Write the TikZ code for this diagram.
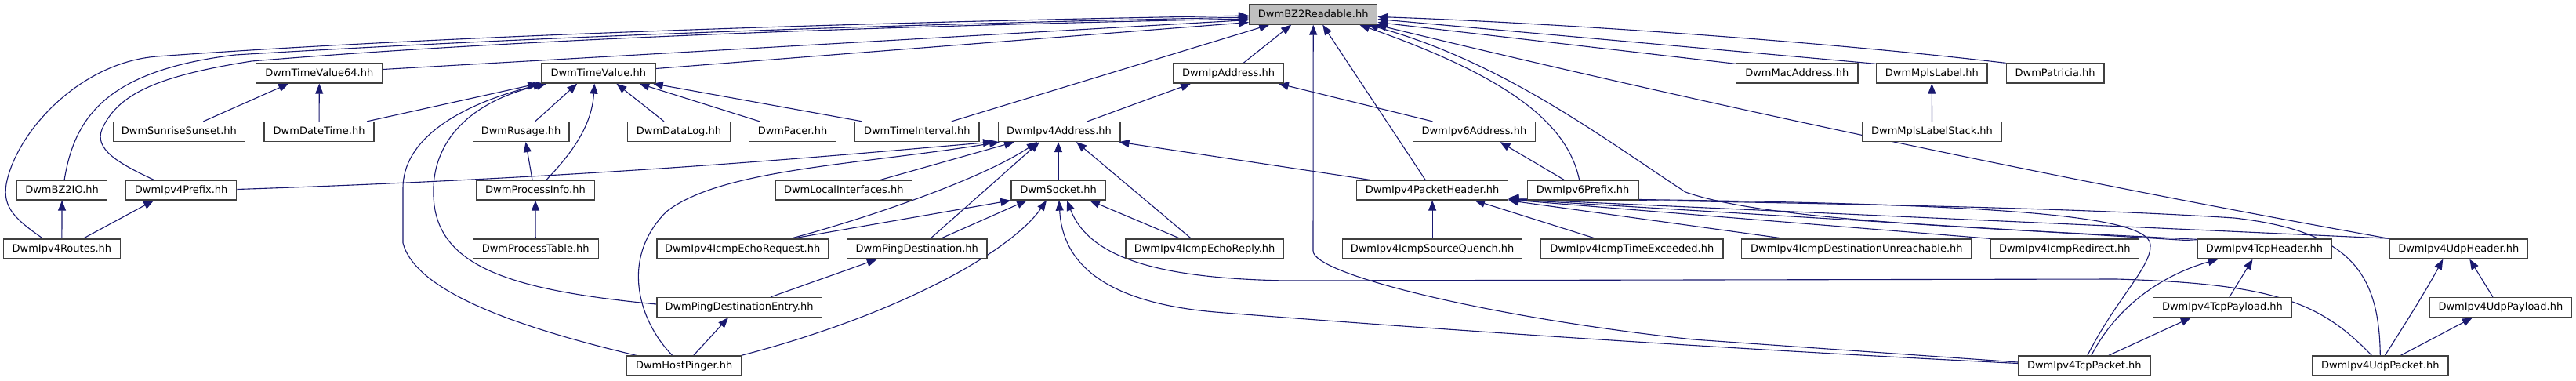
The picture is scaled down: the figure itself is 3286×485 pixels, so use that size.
\documentclass[tikz,border=0pt]{standalone}
\usepackage{fontspec}
\setmainfont{DejaVu Sans}
\usetikzlibrary{arrows.meta,backgrounds}
\definecolor{edgecol}{HTML}{191970}
\definecolor{boxline}{HTML}{404040}
\definecolor{rootfill}{HTML}{BFBFBF}
\begin{document}
\begin{tikzpicture}[x=1pt,y=-1pt,
  box/.style={draw=boxline, line width=1.3pt, fill=white, minimum height=25pt, inner sep=0pt,
    text height=10pt, text depth=3pt, font=\fontsize{13}{15}\selectfont},
  root/.style={box, fill=rootfill},
  edge/.style={draw=edgecol, line width=1.1pt, -{Triangle[length=13pt,width=10pt]}}]
\useasboundingbox (0,0) rectangle (3286,485);
% row 0
\node[root, minimum width=163.2pt] (bzr) at (1675.2,18.5) {DwmBZ2Readable.hh};
% row 1
\node[box, minimum width=161pt]   (tv64) at (407.3,93.5) {DwmTimeValue64.hh};
\node[box, minimum width=145.7pt] (tv)   at (763.3,93.5) {DwmTimeValue.hh};
\node[box, minimum width=140pt]   (ipa)  at (1567.1,93.5) {DwmIpAddress.hh};
\node[box, minimum width=155.4pt] (mac)  at (2292.3,93.5) {DwmMacAddress.hh};
\node[box, minimum width=141.4pt] (mpls) at (2464.3,93.5) {DwmMplsLabel.hh};
\node[box, minimum width=124.6pt] (pat)  at (2621.6,93.5) {DwmPatricia.hh};
% row 2
\node[box, minimum width=168pt]   (sun)    at (228.4,168) {DwmSunriseSunset.hh};
\node[box, minimum width=140pt]   (date)   at (407.1,168) {DwmDateTime.hh};
\node[box, minimum width=122.9pt] (rus)    at (664.6,168) {DwmRusage.hh};
\node[box, minimum width=130.7pt] (dlog)   at (866,168) {DwmDataLog.hh};
\node[box, minimum width=110.7pt] (pacer)  at (1011,168) {DwmPacer.hh};
\node[box, minimum width=158.2pt] (tint)   at (1169.8,168) {DwmTimeInterval.hh};
\node[box, minimum width=155.7pt] (ip4a)   at (1351,168) {DwmIpv4Address.hh};
\node[box, minimum width=155.7pt] (ip6a)   at (1880.4,168) {DwmIpv6Address.hh};
\node[box, minimum width=177.5pt] (mstack) at (2464.5,168) {DwmMplsLabelStack.hh};
% row 3
\node[box, minimum width=114.6pt] (bz2io) at (79.1,242.5) {DwmBZ2IO.hh};
\node[box, minimum width=141pt]   (pfx4)  at (231.2,242.5) {DwmIpv4Prefix.hh};
\node[box, minimum width=150.3pt] (pinfo) at (683,242.5) {DwmProcessInfo.hh};
\node[box, minimum width=174.7pt] (lif)   at (1076.3,242.5) {DwmLocalInterfaces.hh};
\node[box, minimum width=120pt]   (sock)  at (1350,242.5) {DwmSocket.hh};
\node[box, minimum width=192.9pt] (ph4)   at (1827.1,242.5) {DwmIpv4PacketHeader.hh};
\node[box, minimum width=141.8pt] (pfx6)  at (2019.1,242.5) {DwmIpv6Prefix.hh};
% row 4
\node[box, minimum width=148.6pt] (routes)  at (78.9,317.5) {DwmIpv4Routes.hh};
\node[box, minimum width=160pt]   (ptable)  at (683.2,317.5) {DwmProcessTable.hh};
\node[box, minimum width=218.5pt] (ereq)    at (947.1,317.5) {DwmIpv4IcmpEchoRequest.hh};
\node[box, minimum width=178.2pt] (pdest)   at (1169.8,317.5) {DwmPingDestination.hh};
\node[box, minimum width=201pt]   (erep)    at (1536.6,317.5) {DwmIpv4IcmpEchoReply.hh};
\node[box, minimum width=229.3pt] (squench) at (1827.1,317.5) {DwmIpv4IcmpSourceQuench.hh};
\node[box, minimum width=232.2pt] (texc)    at (2081.8,317.5) {DwmIpv4IcmpTimeExceeded.hh};
\node[box, minimum width=293.2pt] (dunr)    at (2368.4,317.5) {DwmIpv4IcmpDestinationUnreachable.hh};
\node[box, minimum width=189pt]   (redir)   at (2633.8,317.5) {DwmIpv4IcmpRedirect.hh};
\node[box, minimum width=170.8pt] (tcph)    at (2888.5,317.5) {DwmIpv4TcpHeader.hh};
\node[box, minimum width=176pt]   (udph)    at (3136.3,317.5) {DwmIpv4UdpHeader.hh};
% row 5
\node[box, minimum width=210.3pt] (pde)  at (943,392) {DwmPingDestinationEntry.hh};
\node[box, minimum width=176.4pt] (tcpp) at (2834.9,392) {DwmIpv4TcpPayload.hh};
\node[box, minimum width=181.6pt] (udpp) at (3189.9,392) {DwmIpv4UdpPayload.hh};
% row 6
\node[box, minimum width=146.8pt] (hp)    at (872.7,466.5) {DwmHostPinger.hh};
\node[box, minimum width=168.4pt] (tcppk) at (2658.8,466.5) {DwmIpv4TcpPacket.hh};
\node[box, minimum width=173.4pt] (udppk) at (3036.3,466.5) {DwmIpv4UdpPacket.hh};

\begin{scope}[on background layer]
\fill[white] (0,0) rectangle (3286,485);
% into DwmBZ2Readable
\draw[edge] ([yshift=5pt]tv64.east) -- ([yshift=-7pt]bzr.west);
\draw[edge] ([yshift=6pt]tv.east) -- ([yshift=-10pt]bzr.west);
\draw[edge] ([xshift=-24pt]routes.north) .. controls (20,280) and (3,265) .. (8,235)
  .. controls (20,170) and (100,80) .. (200,72) .. controls (500,50) and (1000,30) .. ([yshift=-1.5pt]bzr.west);
\draw[edge] ([xshift=3pt]bz2io.north) .. controls (95,150) and (135,90) .. (300,70)
  .. controls (600,52) and (1000,34) .. ([yshift=-3.5pt]bzr.west);
\draw[edge] ([xshift=-35pt]pfx4.north) .. controls (150,208) and (120,190) .. (130,165)
  .. controls (150,120) and (200,97) .. (321,78) .. controls (600,55) and (1000,36) .. ([yshift=-5.5pt]bzr.west);
\draw[edge] ([xshift=44pt]tint.north) -- ([xshift=-56pt]bzr.south);
\draw[edge] ([xshift=19pt]ipa.north) -- ([xshift=-28pt]bzr.south);
\draw[edge] ([yshift=4.5pt]tcppk.west) -- (2160,433) .. controls (1900,405) and (1675,350) .. (1675,320) -- (bzr.south);
\draw[edge] ([xshift=-9pt]ph4.north) -- ([xshift=12pt]bzr.south);
\draw[edge] ([xshift=-4.5pt]pfx6.north) .. controls (2000,160) and (1930,100) .. ([xshift=59pt]bzr.south);
\draw[edge] ([yshift=-1pt]tcph.north west) .. controls (2500,290) and (2250,280) .. (2150,245)
  .. controls (2050,180) and (1920,80) .. ([xshift=70pt]bzr.south);
\draw[edge] (udph.north west) .. controls (2550,215) and (2100,115) .. ([xshift=-2pt]bzr.south east);
\draw[edge] ([yshift=-1pt]mac.north west) -- ([yshift=-10pt]bzr.east);
\draw[edge] ([yshift=-1pt]mpls.north west) -- ([yshift=-6pt]bzr.east);
\draw[edge] (pat.north west) .. controls (2300,50) and (1950,28) .. ([yshift=-3pt]bzr.east);
% into DwmTimeValue64
\draw[edge] ([xshift=31pt]sun.north) -- ([xshift=-39pt]tv64.south);
\draw[edge] (date.north) -- (tv64.south);
% into DwmTimeValue
\draw[edge] ([xshift=61pt]date.north) -- ([xshift=-77pt]tv.south);
\draw[edge] ([xshift=-61pt]hp.north) .. controls (650,415) and (530,370) .. (514,310) -- (514,240)
  .. controls (514,180) and (580,135) .. ([xshift=-70pt]tv.south);
\draw[edge] ([yshift=4pt]pde.west) .. controls (650,370) and (556,340) .. (553,250)
  .. controls (550,180) and (600,130) .. ([xshift=-66pt]tv.south);
\draw[edge] ([xshift=18pt]rus.north) -- ([xshift=-27pt]tv.south);
\draw[edge] ([xshift=14pt]pinfo.north) .. controls (730,195) and (755,160) .. ([xshift=-5pt]tv.south);
\draw[edge] ([xshift=-19pt]dlog.north) -- ([xshift=23pt]tv.south);
\draw[edge] ([xshift=-42pt]pacer.north) -- ([xshift=52pt]tv.south);
\draw[edge] ([xshift=-70pt]tint.north) -- ([xshift=-4pt]tv.south east);
% process
\draw[edge] ([xshift=-4pt]pinfo.north) -- ([xshift=6pt]rus.south);
\draw[edge] (ptable.north) -- (pinfo.south);
% addresses
\draw[edge] ([xshift=36pt]ip4a.north) -- ([xshift=-48pt]ipa.south);
\draw[edge] ([xshift=-53pt]ip6a.north) -- ([xshift=-7pt]ipa.south east);
\draw[edge] ([xshift=-24pt]pfx6.north) -- ([xshift=33pt]ip6a.south);
\draw[edge] ([yshift=1pt]pfx4.east) .. controls (800,225) and (1100,195) .. ([xshift=-84pt]ip4a.south);
\draw[edge] ([xshift=-15pt]hp.north) .. controls (815,410) and (790,330) .. (850,270)
  .. controls (920,215) and (1100,210) .. ([xshift=-76pt]ip4a.south);
\draw[edge] ([xshift=47pt]lif.north) -- ([xshift=-57pt]ip4a.south);
\draw[edge] ([xshift=61pt]ereq.north) .. controls (1100,280) and (1250,230) .. ([xshift=-28pt]ip4a.south);
\draw[edge] ([xshift=63pt]ereq.north) -- (sock.south west);
\draw[edge] ([xshift=17pt]pdest.north) -- ([xshift=-25pt]ip4a.south);
\draw[edge] ([xshift=30pt]pdest.north) -- ([xshift=-40pt]sock.south);
\draw[edge] (sock.north) -- ([xshift=-1pt]ip4a.south);
\draw[edge] ([xshift=-17pt]erep.north) -- ([xshift=22pt]ip4a.south);
\draw[edge] ([xshift=-31pt]erep.north) -- ([xshift=40pt]sock.south);
\draw[edge] ([xshift=-80pt]ph4.north) -- ([xshift=-2pt]ip4a.south east);
% ping
\draw[edge] ([xshift=-1pt]hp.north east) .. controls (1150,400) and (1290,320) .. ([xshift=-15pt]sock.south);
\draw[edge] ([xshift=12pt]hp.north) -- ([xshift=-14pt]pde.south);
\draw[edge] ([xshift=40pt]pde.north) -- ([xshift=-51pt]pdest.south);
% socket to packets
\draw[edge] ([yshift=3pt]tcppk.west) .. controls (2100,440) and (1700,410) .. (1550,398)
  .. controls (1400,385) and (1355,330) .. ([xshift=1pt]sock.south);
\draw[edge] ([xshift=-11pt]udppk.north) .. controls (2960,385) and (2900,362) .. (2700,356) -- (1640,358)
  .. controls (1480,355) and (1390,330) .. ([xshift=11pt]sock.south);
% packet header
\draw[edge] (squench.north) -- (ph4.south);
\draw[edge] ([xshift=-46pt]texc.north) -- ([xshift=54pt]ph4.south);
\draw[edge] ([xshift=-92pt]dunr.north) -- ([yshift=0pt]ph4.south east);
\draw[edge] (redir.north west) -- ([yshift=1pt]ph4.south east);
\draw[edge] ([yshift=-3pt]tcph.north west) -- ([yshift=1.5pt]ph4.south east);
\draw[edge] ([xshift=3pt]udph.north west) -- ([yshift=2pt]ph4.south east);
\draw[edge] (udppk.north) .. controls (3035,350) and (3000,295) .. (2850,278)
  .. controls (2600,262) and (2200,258) .. ([yshift=3pt]ph4.south east);
\draw[edge] ([xshift=4pt]tcppk.north) .. controls (2700,380) and (2745,340) .. (2743,312)
  .. controls (2740,270) and (2500,258) .. ([yshift=3pt]ph4.south east);
% tcp / udp
\draw[edge] ([xshift=9pt]tcpp.north) -- ([xshift=-15pt]tcph.south);
\draw[edge] ([xshift=9pt]tcppk.north) .. controls (2700,390) and (2760,350) .. ([xshift=-59pt]tcph.south);
\draw[edge] ([xshift=31pt]tcppk.north) -- ([xshift=-40pt]tcpp.south);
\draw[edge] ([xshift=-10pt]udpp.north) -- ([xshift=14pt]udph.south);
\draw[edge] ([xshift=6pt]udppk.north) .. controls (3070,410) and (3095,370) .. ([xshift=-20pt]udph.south);
\draw[edge] ([xshift=26pt]udppk.north) -- ([xshift=-36pt]udpp.south);
% misc
\draw[edge] (mstack.north) -- (mpls.south);
\draw[edge] ([xshift=27pt]routes.north) -- ([xshift=-35pt]pfx4.south);
\draw[edge] (routes.north) -- (bz2io.south);
\end{scope}
\end{tikzpicture}
\end{document}
